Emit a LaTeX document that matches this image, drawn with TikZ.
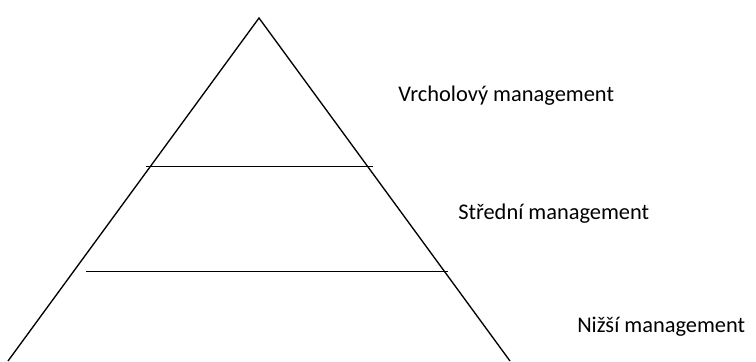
\documentclass[tikz,border=0pt]{standalone}
\usepackage{fontspec}
\setmainfont{Carlito}
\begin{document}
\begin{tikzpicture}[x=0.75pt, y=-0.75pt,
    level/.style={anchor=base west, inner sep=0pt, font=\fontsize{16.8}{20}\selectfont}]
          \useasboundingbox (0,0) rectangle (756,361);

          \coordinate (top) at (259,18);
          \coordinate (left) at (8,361);
          \coordinate (right) at (510,361);

          \draw[line width=1pt] (left) -- (top) -- (right);

          \draw[line width=0.6pt] (146,166) -- (373,166);
          \draw[line width=0.6pt] (86,271) -- (448,271);

          \node[level] (vrchol) at (398,101) {Vrcholový management};
          \node[level] (stred) at (458,219) {Střední management};
          \node[level] (nizsi) at (577,332) {Nižší management};
        \end{tikzpicture}
\end{document}
